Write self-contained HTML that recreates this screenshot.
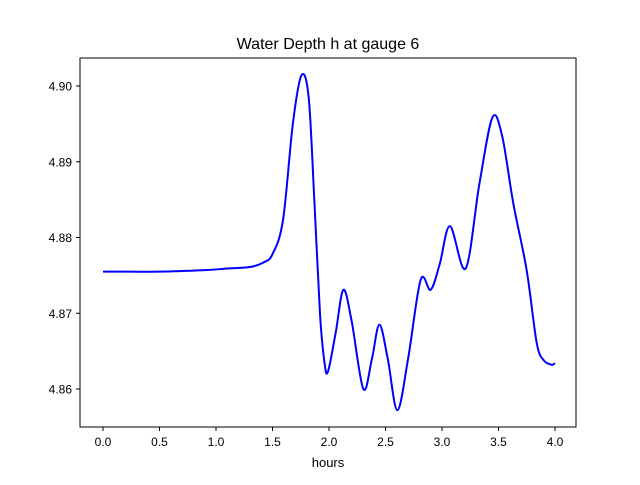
<!DOCTYPE html>
<html><head><meta charset="utf-8"><style>
body{margin:0;background:#fff}
svg text{font-family:"Liberation Sans","DejaVu Sans",sans-serif;fill:#000}
</style></head><body>
<svg id="chart" width="640" height="480">
<rect width="640" height="480" fill="#fff"/>
<text x="328" y="49" font-size="16" text-anchor="middle">Water Depth h at gauge 6</text>
<g id="axes"></g>
<path id="line" fill="none" stroke="#0000ff" stroke-width="2"/>
<rect x="80" y="58" width="496" height="369" fill="none" stroke="#000" stroke-width="1"/>
<text x="328" y="467" font-size="13" text-anchor="middle">hours</text>
</svg>
<script>
const xTicks=[0.0,0.5,1.0,1.5,2.0,2.5,3.0,3.5,4.0];
const xTickLabels=["0.0","0.5","1.0","1.5","2.0","2.5","3.0","3.5","4.0"];
const yTicks=[4.86,4.87,4.88,4.89,4.90];
const yTickLabels=["4.86","4.87","4.88","4.89","4.90"];
const times=[0,0.5,0.9,1.1,1.3,1.42,1.5,1.593,1.68,1.756,1.82,1.87,1.92,1.96,1.991,2.06,2.127,2.2,2.304,2.38,2.446,2.52,2.605,2.7,2.811,2.9,2.98,3.071,3.209,3.33,3.445,3.531,3.631,3.749,3.838,3.9,3.97,4.0];
const depth=[4.8755,4.8755,4.8757,4.8759,4.8761,4.8767,4.8778,4.8823,4.8950,4.9014,4.8985,4.8850,4.8700,4.8635,4.8623,4.8675,4.8731,4.8690,4.8600,4.8640,4.8685,4.8640,4.8572,4.8640,4.8744,4.8731,4.8765,4.8815,4.8759,4.8870,4.8958,4.8935,4.8845,4.8757,4.8661,4.8638,4.8632,4.8634];
const X=t=>103+t*113;
const Y=h=>86+(4.90-h)*7575;
const ns="http://www.w3.org/2000/svg";
const g=document.getElementById('axes');
function mk(tag,attrs){const e=document.createElementNS(ns,tag);for(const k in attrs)e.setAttribute(k,attrs[k]);g.appendChild(e);return e;}
xTicks.forEach((t,i)=>{
 const l=mk('line',{x1:X(t),x2:X(t),y1:427,y2:431,stroke:'#000'});
 
 
 const tx=mk('text',{x:X(t),y:446,'font-size':12,'text-anchor':'middle'});
 tx.textContent=xTickLabels[i];
 
 
});
yTicks.forEach((v,i)=>{
 const l=mk('line',{x1:76,x2:80,y1:Y(v),y2:Y(v),stroke:'#000'});
 
 
 const tx=mk('text',{x:72,y:Y(v)+4.5,'font-size':12,'text-anchor':'end'});
 tx.textContent=yTickLabels[i];
 
 
});
const pts=times.map((t,i)=>[X(t),Y(depth[i])]);
let d='M'+pts[0][0]+','+pts[0][1];
for(let i=0;i<pts.length-1;i++){
 const p0=pts[Math.max(0,i-1)],p1=pts[i],p2=pts[i+1],p3=pts[Math.min(pts.length-1,i+2)];
 const c1=[p1[0]+(p2[0]-p0[0])/6,p1[1]+(p2[1]-p0[1])/6];
 const c2=[p2[0]-(p3[0]-p1[0])/6,p2[1]-(p3[1]-p1[1])/6];
 d+=` C${c1[0]},${c1[1]} ${c2[0]},${c2[1]} ${p2[0]},${p2[1]}`;
}
document.getElementById('line').setAttribute('d',d);
</script>
</body></html>
